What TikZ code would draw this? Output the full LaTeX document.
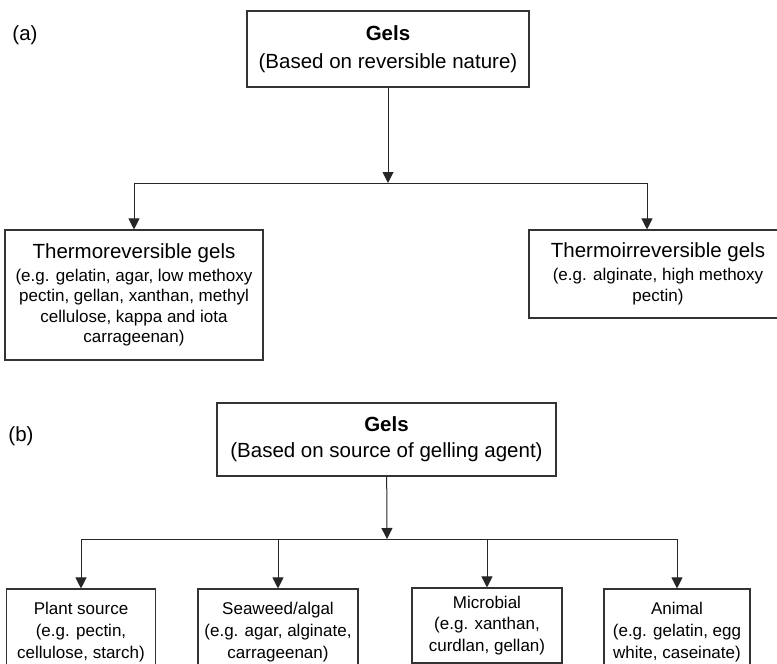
\documentclass[tikz,border=0pt]{standalone}
\usepackage{fontspec}
\setmainfont{Liberation Sans}
\usetikzlibrary{arrows.meta}

\begin{document}
\begin{tikzpicture}[>={Triangle[width=11pt,length=11pt]}, x=1pt, y=-1pt,
  box/.style={draw=black!80, line width=1.1pt, align=center, inner sep=0pt},
  big/.style={font=\fontsize{20.5}{28}\selectfont},
  small/.style={font=\fontsize{17}{20.5}\selectfont},
  link/.style={->, line width=1pt, draw=black!85}]

\def\headfont{\fontsize{20.5}{23}\selectfont}
\def\rowa{183}
\def\rowb{539}

\useasboundingbox (0,0) rectangle (777,664);

% (a) based on reversible nature
\node[big] (alabel) at (25,35) {(a)};
\node[box, big, minimum width=282pt, minimum height=76pt] (atop) at (388,49) {\textbf{Gels}\\(Based on reversible nature)};

\node[box, small, minimum width=258pt, minimum height=130pt] (arev) at (134,295)
  {{\headfont Thermoreversible gels}\\[2.5pt](e.g. gelatin, agar, low methoxy\\pectin, gellan, xanthan, methyl\\cellulose, kappa and iota\\carrageenan)};
\node[box, small, minimum width=258pt, minimum height=88pt] (airr) at (658,274)
  {{\headfont Thermoirreversible gels}\\[2.5pt](e.g. alginate, high methoxy\\pectin)};

\coordinate (ajoin) at (388,\rowa);
\draw[link] (atop) -- (ajoin);
\draw[link] (ajoin) -| (arev);
\draw[link] (ajoin) -| ([xshift=-11pt]airr.north);

% (b) based on source of gelling agent
\node[big] (blabel) at (21,436) {(b)};
\node[box, big, minimum width=339pt, minimum height=73pt] (btop) at (386.5,439.5) {\textbf{Gels}\\[-2pt](Based on source of gelling agent)};

\node[box, small, minimum width=149pt, minimum height=86pt] (bplant) at (81,632)
  {Plant source\\[1.5pt](e.g. pectin,\\[1.5pt]cellulose, starch)};
\node[box, small, minimum width=160pt, minimum height=86pt] (bsea) at (278,632)
  {Seaweed/algal\\[1.5pt](e.g. agar, alginate,\\[1.5pt]carrageenan)};
\node[box, small, minimum width=150pt, minimum height=75pt] (bmicro) at (487,625.5)
  {Microbial\\[1pt](e.g. xanthan,\\[1pt]curdlan, gellan)};
\node[box, small, minimum width=146pt, minimum height=86pt] (banimal) at (677,632)
  {Animal\\[1.5pt](e.g. gelatin, egg\\[1.5pt]white, caseinate)};

\coordinate (bjoin) at (387,\rowb);
\draw[link] (btop) -- (bjoin);
\draw[link] (bjoin) -| (bplant);
\draw[link] (bjoin) -| (bsea);
\draw[link] (bjoin) -| (bmicro);
\draw[link] (bjoin) -| (banimal);

\end{tikzpicture}
\end{document}
